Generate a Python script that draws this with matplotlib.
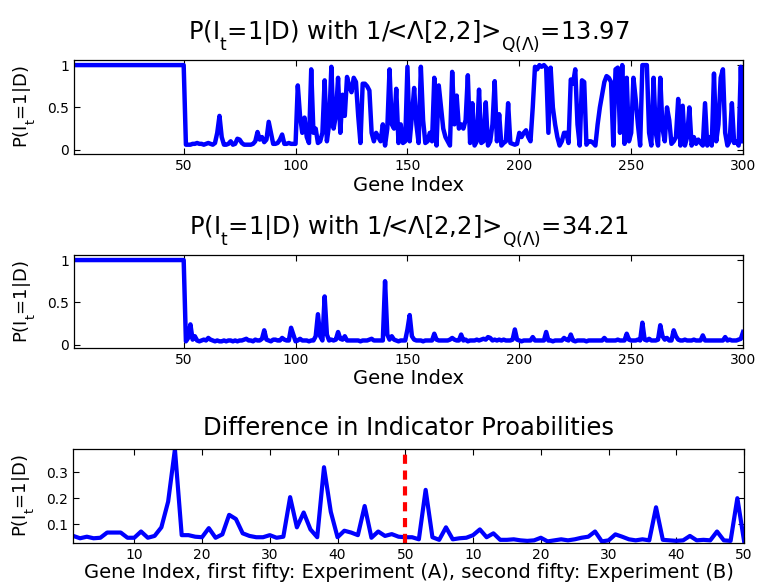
import numpy as np
import matplotlib
matplotlib.use("Agg")
import matplotlib.pyplot as plt

plt.rcParams['font.family'] = ['DejaVu Sans']
plt.rcParams['mathtext.default'] = 'regular'

# MATLAB drops subscripts further below the baseline than mathtext does
try:
    from matplotlib import _mathtext
    _mathtext.DejaVuSansFontConstants.sub1 = 0.85
except Exception:
    pass

# P(I_t=1|D), first run (genes 1..300)
prob_run1 = [1.0] * 50 + [
    0.06, 0.06, 0.06, 0.07, 0.07, 0.08, 0.07, 0.07, 0.06, 0.07,
    0.08, 0.07, 0.06, 0.08, 0.20, 0.40, 0.15, 0.06, 0.06, 0.07,
    0.10, 0.06, 0.07, 0.13, 0.12, 0.08, 0.06, 0.06, 0.06, 0.06,
    0.07, 0.10, 0.21, 0.12, 0.15, 0.09, 0.12, 0.33, 0.20, 0.07,
    0.07, 0.08, 0.12, 0.18, 0.07, 0.07, 0.08, 0.07, 0.07, 0.07,
    0.76, 0.40, 0.20, 0.38, 0.15, 0.08, 0.95, 0.20, 0.25, 0.08,
    0.10, 0.20, 0.82, 0.10, 0.30, 0.98, 0.25, 0.40, 0.85, 0.20,
    0.65, 0.40, 0.86, 0.75, 0.68, 0.85, 0.80, 0.40, 0.08, 0.78,
    0.78, 0.75, 0.70, 0.20, 0.10, 0.20, 0.15, 0.10, 0.30, 0.05,
    0.25, 0.95, 0.30, 0.25, 0.72, 0.08, 0.30, 0.08, 0.10, 0.98,
    0.10, 0.40, 0.73, 0.30, 0.08, 0.98, 0.35, 0.08, 0.10, 0.20,
    0.10, 0.85, 0.05, 0.76, 0.50, 0.25, 0.15, 0.10, 0.05, 0.92,
    0.30, 0.64, 0.25, 0.30, 0.25, 0.35, 0.88, 0.08, 0.55, 0.05,
    0.10, 0.71, 0.08, 0.10, 0.56, 0.05, 0.10, 0.30, 0.81, 0.10,
    0.42, 0.05, 0.08, 0.10, 0.55, 0.08, 0.07, 0.06, 0.07, 0.20,
    0.15, 0.20, 0.23, 0.15, 0.10, 0.50, 0.98, 0.95, 1.00, 0.98,
    1.00, 0.97, 0.20, 0.97, 0.50, 0.30, 0.15, 0.05, 0.10, 0.20,
    0.20, 0.08, 0.83, 0.78, 0.95, 0.30, 0.05, 0.82, 0.80, 0.06,
    0.10, 0.10, 0.08, 0.05, 0.30, 0.50, 0.65, 0.80, 0.87, 0.85,
    0.80, 0.05, 0.95, 0.97, 0.20, 1.00, 0.07, 0.85, 0.10, 0.20,
    0.85, 0.60, 0.30, 0.05, 1.00, 1.00, 1.00, 0.20, 0.05, 0.85,
    0.20, 0.05, 0.85, 0.25, 0.10, 0.50, 0.35, 0.07, 0.10, 0.15,
    0.60, 0.05, 0.52, 0.05, 0.15, 0.50, 0.05, 0.15, 0.07, 0.12,
    0.08, 0.05, 0.55, 0.05, 0.15, 0.05, 0.90, 0.10, 0.30, 0.85,
    0.95, 0.20, 0.05, 0.10, 0.55, 0.08, 0.10, 0.05, 0.98, 0.10,
]

# P(I_t=1|D), second run (genes 1..300)
prob_run2 = [1.0] * 50 + [
    0.04, 0.08, 0.24, 0.06, 0.10, 0.05, 0.04, 0.05, 0.06, 0.05,
    0.08, 0.06, 0.05, 0.04, 0.05, 0.04, 0.04, 0.05, 0.04, 0.05,
    0.05, 0.04, 0.05, 0.04, 0.05, 0.05, 0.06, 0.07, 0.05, 0.05,
    0.04, 0.06, 0.05, 0.05, 0.07, 0.17, 0.06, 0.05, 0.04, 0.06,
    0.06, 0.05, 0.05, 0.08, 0.06, 0.05, 0.05, 0.20, 0.12, 0.04,
    0.05, 0.07, 0.05, 0.05, 0.05, 0.04, 0.05, 0.05, 0.10, 0.36,
    0.10, 0.05, 0.57, 0.12, 0.05, 0.06, 0.05, 0.06, 0.15, 0.07,
    0.06, 0.10, 0.05, 0.05, 0.05, 0.05, 0.05, 0.05, 0.04, 0.05,
    0.05, 0.05, 0.06, 0.07, 0.05, 0.05, 0.05, 0.05, 0.05, 0.75,
    0.12, 0.06, 0.10, 0.06, 0.05, 0.04, 0.05, 0.05, 0.05, 0.18,
    0.35, 0.10, 0.06, 0.05, 0.05, 0.05, 0.04, 0.05, 0.05, 0.05,
    0.05, 0.13, 0.06, 0.05, 0.05, 0.05, 0.05, 0.05, 0.06, 0.08,
    0.06, 0.05, 0.05, 0.12, 0.05, 0.06, 0.04, 0.05, 0.05, 0.05,
    0.06, 0.05, 0.06, 0.07, 0.06, 0.09, 0.08, 0.05, 0.06, 0.05,
    0.06, 0.05, 0.06, 0.05, 0.05, 0.05, 0.06, 0.18, 0.06, 0.05,
    0.04, 0.05, 0.05, 0.05, 0.05, 0.09, 0.05, 0.05, 0.05, 0.05,
    0.05, 0.15, 0.05, 0.05, 0.04, 0.05, 0.05, 0.05, 0.05, 0.08,
    0.06, 0.05, 0.12, 0.05, 0.04, 0.05, 0.05, 0.05, 0.05, 0.04,
    0.05, 0.05, 0.05, 0.05, 0.05, 0.05, 0.05, 0.08, 0.05, 0.05,
    0.05, 0.05, 0.05, 0.06, 0.05, 0.05, 0.05, 0.13, 0.06, 0.05,
    0.05, 0.05, 0.06, 0.05, 0.26, 0.06, 0.05, 0.07, 0.05, 0.05,
    0.05, 0.06, 0.23, 0.10, 0.06, 0.08, 0.05, 0.05, 0.17, 0.10,
    0.06, 0.05, 0.05, 0.06, 0.05, 0.05, 0.05, 0.06, 0.05, 0.05,
    0.05, 0.11, 0.05, 0.05, 0.05, 0.05, 0.05, 0.05, 0.05, 0.05,
    0.05, 0.09, 0.05, 0.06, 0.05, 0.05, 0.05, 0.06, 0.07, 0.15,
]

# difference in indicator probabilities, 50 genes of A then 50 of B
diff_probs = [
    0.055, 0.046, 0.052, 0.046, 0.048, 0.068, 0.068, 0.068, 0.048, 0.048,
    0.072, 0.048, 0.055, 0.088, 0.187, 0.388, 0.058, 0.058, 0.052, 0.050,
    0.085, 0.048, 0.061, 0.136, 0.120, 0.065, 0.055, 0.050, 0.050, 0.058,
    0.048, 0.052, 0.204, 0.088, 0.145, 0.080, 0.050, 0.319, 0.148, 0.050,
    0.075, 0.068, 0.058, 0.170, 0.048, 0.072, 0.055, 0.062, 0.052, 0.050,
    0.050, 0.042, 0.232, 0.050, 0.040, 0.088, 0.042, 0.046, 0.048, 0.058,
    0.080, 0.050, 0.065, 0.040, 0.040, 0.042, 0.038, 0.036, 0.038, 0.048,
    0.034, 0.038, 0.042, 0.038, 0.042, 0.048, 0.052, 0.072, 0.034, 0.038,
    0.061, 0.052, 0.042, 0.038, 0.042, 0.038, 0.165, 0.040, 0.038, 0.036,
    0.038, 0.055, 0.038, 0.040, 0.038, 0.072, 0.038, 0.036, 0.200, 0.034,
]
diff_ticks = [10, 20, 30, 40, 50, 60, 70, 80, 90, 100]
diff_ticklabels = ['10', '20', '30', '40', '50', '10', '20', '30', '40', '50']

ylab = 'P(I$_t$=1|D)'
blue = '#0000ff'
title_fs = 17.5
label_fs = 14

fig = plt.figure(figsize=(7.57, 5.86), dpi=100)


def style(ax):
    ax.tick_params(direction='in', top=True, right=True, length=4,
                   labelsize=10, width=0.8)
    for s in ax.spines.values():
        s.set_linewidth(0.9)


# top panel
ax1 = fig.add_axes([0.0978, 0.7372, 0.8838, 0.1604])
x1 = np.arange(1, len(prob_run1) + 1)
ax1.plot(x1, prob_run1, color=blue, lw=3.2)
ax1.set_xlim(1, 300)
ax1.set_ylim(-0.05, 1.06)
ax1.set_xticks([50, 100, 150, 200, 250, 300])
ax1.set_yticks([0, 0.5, 1])
ax1.set_yticklabels(['0', '0.5', '1'])
ax1.set_xlabel('Gene Index', fontsize=label_fs, labelpad=2)
ax1.set_ylabel(ylab, fontsize=13, labelpad=7)
ax1.set_title('P(I$_t$=1|D) with 1/<Λ[2,2]>$_{Q(Λ)}$=13.97', fontsize=title_fs, pad=15)
style(ax1)

# middle panel
ax2 = fig.add_axes([0.0978, 0.4067, 0.8838, 0.1582])
x2 = np.arange(1, len(prob_run2) + 1)
ax2.plot(x2, prob_run2, color=blue, lw=3.2)
ax2.set_xlim(1, 300)
ax2.set_ylim(-0.035, 1.06)
ax2.set_xticks([50, 100, 150, 200, 250, 300])
ax2.set_yticks([0, 0.5, 1])
ax2.set_yticklabels(['0', '0.5', '1'])
ax2.set_xlabel('Gene Index', fontsize=label_fs, labelpad=2)
ax2.set_ylabel(ylab, fontsize=13, labelpad=7)
ax2.set_title('P(I$_t$=1|D) with 1/<Λ[2,2]>$_{Q(Λ)}$=34.21', fontsize=title_fs, pad=15)
style(ax2)

# bottom panel
ax3 = fig.add_axes([0.0968, 0.0739, 0.8862, 0.1594])
x3 = np.arange(1, len(diff_probs) + 1)
ax3.plot(x3, diff_probs, color=blue, lw=3)
ax3.axvline(50, color='#ff0000', lw=3, ls=(0, (2.2, 1.6)))
ax3.set_xlim(1, 100)
ax3.set_ylim(0.029, 0.388)
ax3.set_xticks(diff_ticks)
ax3.set_xticklabels(diff_ticklabels)
ax3.set_yticks([0.1, 0.2, 0.3])
ax3.set_xlabel('Gene Index, first fifty: Experiment (A), second fifty: Experiment (B)',
               fontsize=label_fs, labelpad=1)
ax3.set_ylabel(ylab, fontsize=13, labelpad=7)
ax3.set_title('Difference in Indicator Proabilities', fontsize=title_fs, pad=10)
style(ax3)

fig.savefig('out.png', dpi=100)
